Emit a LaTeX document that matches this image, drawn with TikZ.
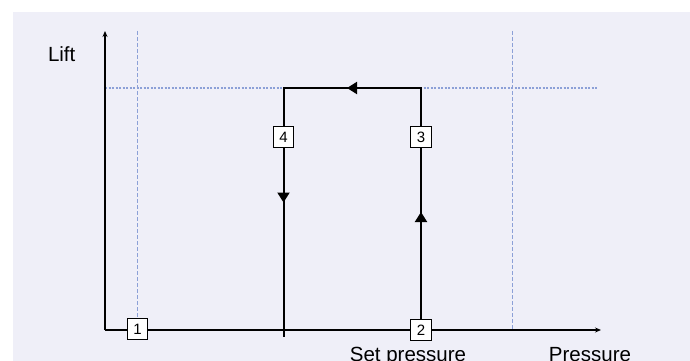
\documentclass[tikz,border=0pt]{standalone}
\usepackage{fontspec}
\setmainfont{Liberation Sans}
\usetikzlibrary{decorations.markings,arrows.meta}
\definecolor{bgc}{RGB}{239,239,248}
\definecolor{guide}{RGB}{140,160,215}
\begin{document}
\begin{tikzpicture}[x=1pt,y=-1pt,
  axis/.style={line width=1.2pt, -{Stealth[length=6pt,width=5pt]}},
  loopline/.style={line width=2pt, line join=miter},
  guideV/.style={guide, line width=1.4pt, dash pattern=on 4pt off 2pt},
  guideH/.style={guide, line width=1.4pt, dash pattern=on 2pt off 1.5pt},
  numbox/.style={draw, fill=white, line width=1.1pt, minimum size=20.5pt, inner sep=0pt, font=\fontsize{15}{15}\selectfont},
  lbl/.style={font=\fontsize{20.5}{24}\selectfont, anchor=base, inner sep=0pt},
  flow/.style={postaction={decorate}, decoration={markings,
     mark=at position 118pt with {\arrow{Triangle[length=10pt,width=12pt]}},
     mark=at position 316pt with {\arrow{Triangle[length=10pt,width=12pt]}},
     mark=at position 494pt with {\arrow{Triangle[length=10pt,width=12pt]}}}}
]
\useasboundingbox (0,0) rectangle (690,361);
\fill[bgc] (13,12) rectangle (690,361);
% coordinates
\coordinate (O) at (105,330);
\coordinate (ytop) at (105,31);
\coordinate (xend) at (601,330);
\coordinate (g1top) at (137.5,31);
\coordinate (g2top) at (512.7,31);
\coordinate (g2bot) at (512.7,330);
\coordinate (hl) at (105,88);
\coordinate (hr) at (597,88);
\coordinate (TR) at (421,88);
\coordinate (TL) at (283.5,88);
\coordinate (BL) at (283.5,337);
\coordinate (B2) at (421,330);
% boxes (positions)
\node[numbox] (n1) at (137.5,329) {1};
\node[numbox] (n2) at (421,330) {2};
\node[numbox] (n3) at (421,137) {3};
\node[numbox] (n4) at (283.5,137) {4};
% guides
\draw[guideV] (g1top) -- (n1.north);
\draw[guideV] (g2top) -- (g2bot);
\draw[guideH] (hl) -- (hr);
% axes
\draw[axis] (O) -- (ytop);
\draw[axis] (O) -- (xend);
% loop
\draw[loopline, flow] (B2) -- (TR) -- (TL) -- (BL);
% boxes on top
\node[numbox] at (n1) {1};
\node[numbox] at (n2) {2};
\node[numbox] at (n3) {3};
\node[numbox] at (n4) {4};
% labels
\node[lbl] (lift) at (61.7,61.7) {Lift};
\node[lbl] (setp) at (408,361.7) {Set pressure};
\node[lbl] (pres) at (590,361.7) {Pressure};
\end{tikzpicture}
\end{document}
